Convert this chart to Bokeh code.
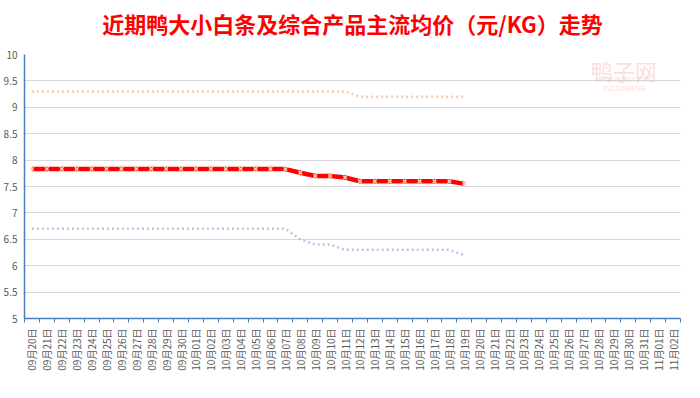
import numpy as np
from bokeh.plotting import figure
from bokeh.models import Range1d, FixedTicker, Legend, LegendItem, NumeralTickFormatter, Label
from bokeh.embed import file_html
from bokeh.resources import INLINE

dates = ["09月20日", "09月21日", "09月22日", "09月23日", "09月24日", "09月25日", "09月26日",
         "09月27日", "09月28日", "09月29日", "09月30日", "10月01日", "10月02日", "10月03日",
         "10月04日", "10月05日", "10月06日", "10月07日", "10月08日", "10月09日", "10月10日",
         "10月11日", "10月12日", "10月13日", "10月14日", "10月15日", "10月16日", "10月17日",
         "10月18日", "10月19日", "10月20日", "10月21日", "10月22日", "10月23日", "10月24日",
         "10月25日", "10月26日", "10月27日", "10月28日", "10月29日", "10月30日", "10月31日",
         "11月01日", "11月02日"]

small_white = [6.7, 6.7, 6.7, 6.7, 6.7, 6.7, 6.7, 6.7, 6.7, 6.7, 6.7, 6.7, 6.7, 6.7, 6.7,
               6.7, 6.7, 6.7, 6.5, 6.4, 6.4, 6.3, 6.3, 6.3, 6.3, 6.3, 6.3, 6.3, 6.3, 6.2]
big_white = [9.3, 9.3, 9.3, 9.3, 9.3, 9.3, 9.3, 9.3, 9.3, 9.3, 9.3, 9.3, 9.3, 9.3, 9.3,
             9.3, 9.3, 9.3, 9.3, 9.3, 9.3, 9.3, 9.2, 9.2, 9.2, 9.2, 9.2, 9.2, 9.2, 9.2]
combined = [7.83, 7.83, 7.83, 7.83, 7.83, 7.83, 7.83, 7.83, 7.83, 7.83, 7.83, 7.83, 7.83, 7.83, 7.83,
            7.83, 7.83, 7.83, 7.76, 7.70, 7.70, 7.67, 7.60, 7.60, 7.60, 7.60, 7.60, 7.60, 7.60, 7.55]
index_vals = [7.83, 7.83, 7.83, 7.83, 7.83, 7.83, 7.83, 7.83, 7.83, 7.83, 7.83, 7.83, 7.83, 7.83, 7.83,
              7.83, 7.83, 7.83, 7.76, 7.70, 7.70, 7.67, 7.60, 7.60, 7.60, 7.60, 7.60, 7.60, 7.60, 7.55]

series_names = ["小白条", "大白条", "综合产品", "指数"]
y_ticks = [5, 5.5, 6, 6.5, 7, 7.5, 8, 8.5, 9, 9.5, 10]

FONT = "Noto Sans CJK SC"
GRAY = "#595959"
AXIS_BLUE = "#4a7ebb"

n = len(dates)
centers = [i + 0.5 for i in range(n)]
xs = centers[:len(index_vals)]

p = figure(output_backend="svg", toolbar_location=None,
           x_range=Range1d(0, n), y_range=Range1d(5, 10),
           width=684, height=390,
           frame_width=656, frame_height=264,
           min_border_left=22, min_border_right=6, min_border_top=0, min_border_bottom=0,
           margin=(-8, 0, 0, 0))
p.outline_line_color = None
p.background_fill_color = "white"
p.border_fill_color = "white"

p.title.text = "近期鸭大小白条及综合产品主流均价（元/KG）走势"
p.title.align = "center"
p.title.vertical_align = "top"
p.title.text_color = "#FF0000"
p.title.text_font = FONT
p.title.text_font_style = "bold"
p.title.text_font_size = "22px"
p.title.standoff = 28

# axes
p.xaxis.ticker = FixedTicker(ticks=centers, minor_ticks=list(range(n + 1)))
p.xaxis.major_label_overrides = {c: d for c, d in zip(centers, dates)}
p.xaxis.major_label_orientation = np.pi / 2
p.xaxis.major_tick_line_color = None
p.xaxis.major_tick_out = 0
p.xaxis.major_tick_in = 0
p.xaxis.minor_tick_line_color = AXIS_BLUE
p.xaxis.minor_tick_out = 4
p.xaxis.minor_tick_in = 0
p.xaxis.axis_line_color = AXIS_BLUE
p.xaxis.axis_line_width = 1.5
p.xaxis.major_label_standoff = 6
p.xaxis.major_label_text_font = FONT
p.xaxis.major_label_text_font_size = "10px"
p.xaxis.major_label_text_color = GRAY

p.yaxis.ticker = FixedTicker(ticks=y_ticks)
p.yaxis.formatter = NumeralTickFormatter(format="0.[0]")
p.yaxis.axis_line_color = AXIS_BLUE
p.yaxis.axis_line_width = 1.5
p.yaxis.major_tick_out = 0
p.yaxis.major_tick_in = 0
p.yaxis.minor_tick_line_color = None
p.yaxis.major_label_standoff = 7
p.yaxis.major_label_text_font = FONT
p.yaxis.major_label_text_font_size = "10px"
p.yaxis.major_label_text_color = GRAY

p.xgrid.grid_line_color = None
p.ygrid.grid_line_color = "#D9D9D9"
p.ygrid.grid_line_width = 1
p.ygrid.ticker = FixedTicker(ticks=y_ticks)

# watermark
p.add_layout(Label(x=40.2, y=9.70, text="鸭子网", text_font=FONT, text_font_size="22px",
                   text_color="#F4B8B8", text_alpha=0.45, text_align="center", text_baseline="middle"))
p.add_layout(Label(x=40.2, y=9.52, text="WWW.INTEDC.COM", text_font=FONT, text_font_size="6px",
                   text_color="#F4B8B8", text_alpha=0.6, text_align="center", text_baseline="middle"))
p.add_layout(Label(x=40.2, y=9.36, text="15131069765", text_font=FONT, text_font_size="7px",
                   text_color="#F4B8B8", text_alpha=0.6, text_align="center", text_baseline="middle"))

# series
r_small = p.line(xs, small_white, line_color="#B4C7E7", line_width=2.5, line_dash="2 3")
r_big = p.line(xs, big_white, line_color="#F8CBAD", line_width=2.5, line_dash="2 3")
r_comb = p.line(xs, combined, line_color="#DBDBDB", line_width=2.5, line_dash="2 3")
r_idx = p.line(xs, index_vals, line_color="#FF0000", line_width=4.5)
r_idx_m = p.scatter(xs, index_vals, marker="x", size=5, line_color="#FAD2B8", line_width=1.5)

legend = Legend(items=[LegendItem(label=series_names[0], renderers=[r_small]),
                       LegendItem(label=series_names[1], renderers=[r_big]),
                       LegendItem(label=series_names[2], renderers=[r_comb]),
                       LegendItem(label=series_names[3], renderers=[r_idx, r_idx_m])],
                orientation="horizontal", location="top_center",
                background_fill_alpha=0, border_line_color=None,
                padding=0, margin=8, glyph_height=14, glyph_width=28,
                label_standoff=5, spacing=16, label_height=14,
                label_text_font=FONT, label_text_font_size="10px", label_text_color=GRAY)
p.add_layout(legend, "below")

open("out.html", "w").write(file_html(p, INLINE))
